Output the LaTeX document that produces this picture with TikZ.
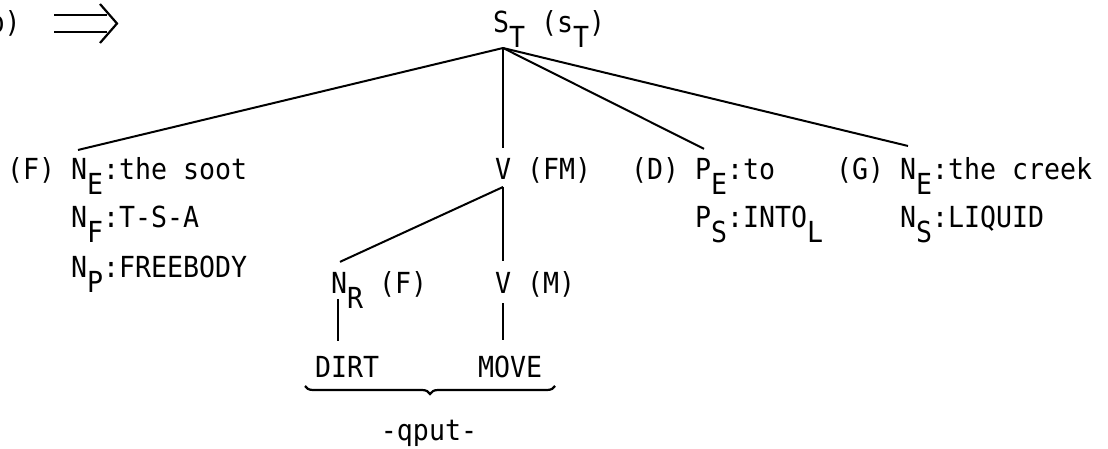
\documentclass[tikz,border=0pt]{standalone}
\usepackage{fontspec}
\newfontfamily\tw[FakeStretch=0.917]{DejaVu Sans Mono}
\usetikzlibrary{calc,decorations.pathreplacing}
\newcommand\lo[1]{\raisebox{-15pt}{#1}}
\begin{document}
\begin{tikzpicture}[x=1pt,y=-1pt,
  every node/.style={inner sep=0pt,outer sep=0pt,anchor=base west,
    font=\tw\fontsize{29}{33}\selectfont},
  edge/.style={line width=2pt},
  bracestyle/.style={line width=2.2pt,decorate,decoration={brace,mirror,amplitude=8pt}}]
\useasboundingbox[fill=white] (0,0) rectangle (1108,449);

% label and arrow
\node (lab) at (-11.5,33) {b)};
\draw[line width=2pt] (54,15) -- (107,15) (54,32) -- (107,32);
\draw[line width=2.2pt,line join=miter] (100,4) -- (117,23.5) -- (100,43);

% root
\node (st) at (493,33) {S\lo{T}};
\node (stl) at (541,33) {(s\lo{T})};
\coordinate (j) at ([xshift=-6pt]st.south);

% first row
\node (rF) at (7,180) {(F)};
\node (ne1) at (71,180) {N\lo{E}:the soot};
\node (nf) at (71,228) {N\lo{F}:T-S-A};
\node (np) at (71,277) {N\lo{P}:FREEBODY};

\node (vfm) at (495,180) {V};
\node (rFM) at (527,180) {(FM)};

\node (rD) at (631,180) {(D)};
\node (pe) at (695,180) {P\lo{E}:to};
\node (ps) at (695,228) {P\lo{S}:INTO\lo{L}};

\node (rG) at (836,180) {(G)};
\node (ne2) at (900,180) {N\lo{E}:the creek};
\node (ns) at (900,228) {N\lo{S}:LIQUID};

% second level
\node (nr) at (331,293) {N\lo{R}};
\node (rF2) at (379,293) {(F)};
\node (vm) at (495,293) {V};
\node (rM) at (527,293) {(M)};

\node (dirt) at (315,377) {DIRT};
\node (move) at (478,377) {MOVE};
\node[anchor=base] (qput) at (429,440) {-qput-};

% connectors from root
\draw[edge] (j) -- ([shift={(7,-8)}]ne1.north west);
\draw[edge] (j) -- ($(j |- vfm.north)+(0,-11)$);
\draw[edge] (j) -- ([shift={(9,-10)}]pe.north west);
\draw[edge] (j) -- ([shift={(8,-12)}]ne2.north west);

% connectors from V (FM)
\coordinate (vj) at ([shift={(0,7)}]vfm.south);
\draw[edge] (vj) -- ([shift={(9,-10)}]nr.north west);
\draw[edge] (vj) -- ($(vm.north)+(0,-11)$);

% to DIRT and MOVE
\draw[edge] ($(nr.base west)+(7,6)$) -- ($(nr.base west |- dirt.north)+(7,-15)$);
\draw[edge] ($(vm.south)+(0,10)$) -- ($(vm.south |- move.north)+(0,-15)$);

% brace
\draw[bracestyle] ($(dirt.base west)+(-10,9)$) -- ($(move.base east)+(13,9)$);
\end{tikzpicture}
\end{document}
